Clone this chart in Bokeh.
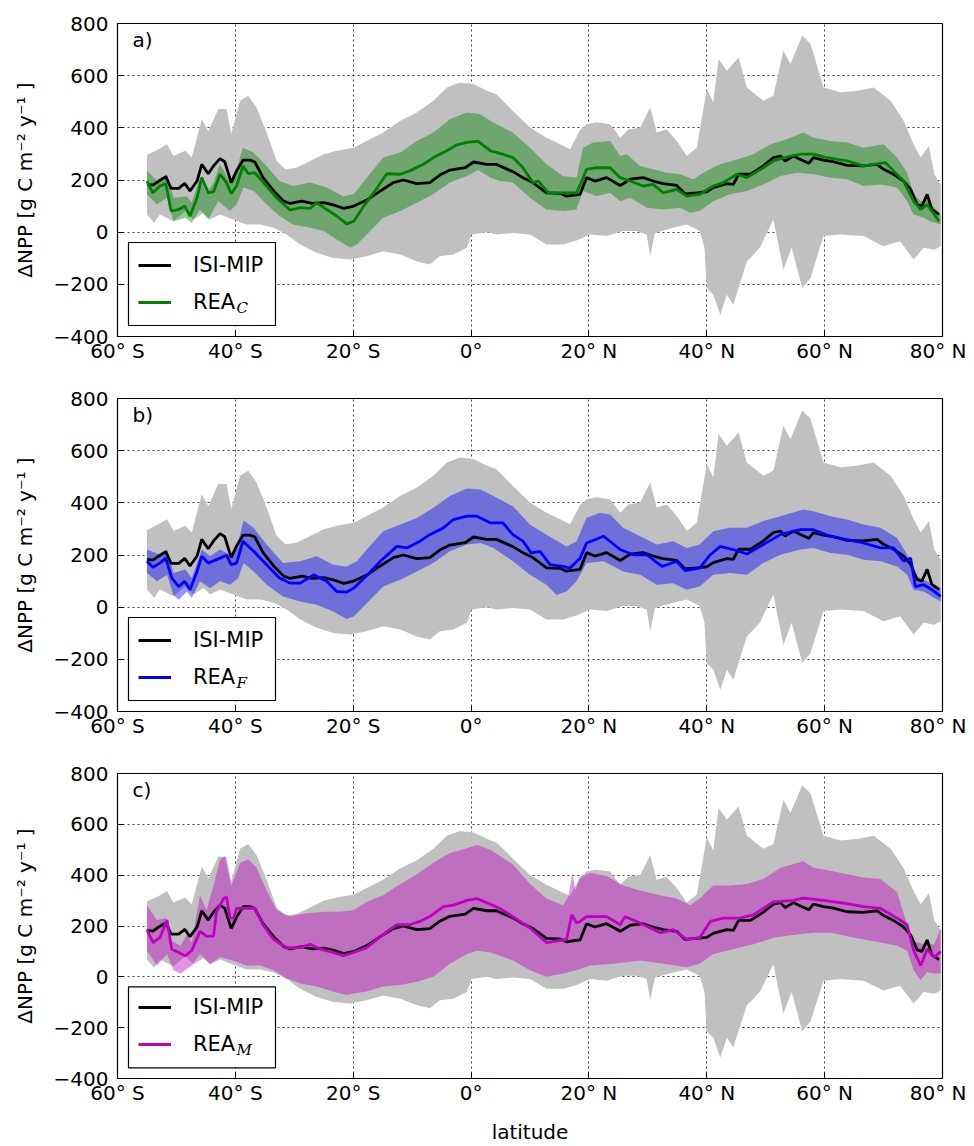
from bokeh.plotting import figure
from bokeh.layouts import column
from bokeh.models import FixedTicker, Legend, LegendItem, Label, Range1d, BoxAnnotation
from bokeh.embed import file_html
from bokeh.resources import INLINE

# ---------------- data ----------------
X_TICKS = [-60, -40, -20, 0, 20, 40, 60, 80]
X_TICK_LABELS = ["60° S", "40° S", "20° S", "0°", "20° N", "40° N", "60° N", "80° N"]
Y_TICKS = [-400, -200, 0, 200, 400, 600, 800]
Y_TICK_LABELS = ["−400", "−200", "0", "200", "400", "600", "800"]

# ISI-MIP ensemble mean (black line), (latitude, dNPP)
ISI_MEAN = [(-55, 183), (-54, 180), (-53, 196), (-51.8, 213), (-50.9, 168), (-49.6, 168), (-48.6, 187),
            (-47.7, 158), (-46.5, 196), (-45.7, 260), (-44.6, 224), (-43.7, 254), (-42.6, 282), (-41.8, 270),
            (-40.7, 190), (-39.8, 235), (-38.7, 276), (-37.5, 276), (-36.7, 269), (-35.3, 209), (-33.5, 158),
            (-31.8, 119), (-30.7, 110), (-28.7, 119), (-27, 110), (-25, 113), (-23.3, 104), (-21.6, 91),
            (-19.9, 100), (-17.7, 123), (-15.4, 158), (-13.2, 190), (-11.5, 200), (-9.2, 186), (-7, 190),
            (-5.3, 219), (-3.6, 238), (-1, 247), (0.4, 269), (2.7, 260), (4.3, 260), (7.1, 232), (8.8, 209),
            (10.5, 190), (12.8, 151), (15.1, 149), (16.2, 138), (18.5, 145), (19.6, 209), (21, 196), (23, 209),
            (25.3, 179), (27, 203), (29.2, 209), (30.9, 196), (32.6, 186), (34.9, 179), (36.3, 147), (38.3, 151),
            (40, 155), (41.1, 171), (43.4, 186), (44.5, 183), (45.4, 222), (47.4, 222), (49.6, 254), (51.3, 286),
            (52.5, 292), (53.3, 273), (54.7, 292), (55.9, 279), (57.3, 264), (58.1, 286), (59.8, 276),
            (61.5, 270), (63.8, 256), (66.6, 254), (68.9, 260), (70, 241), (71.7, 222), (73.4, 196), (74.6, 164),
            (75.7, 106), (76.5, 100), (77.4, 145), (78.2, 87), (79.4, 68)]

# ISI-MIP ensemble spread (grey band)
ISI_UPPER = [(-55, 296), (-53, 318), (-51.6, 337), (-50.5, 292), (-48.5, 312), (-47.4, 286), (-45.7, 433),
             (-44.6, 388), (-42.9, 472), (-41.5, 472), (-40.7, 376), (-39.2, 504), (-37.8, 523), (-36.4, 478),
             (-34.7, 382), (-33, 273), (-31.5, 241), (-29.6, 247), (-27.3, 273), (-25, 299), (-22.8, 312),
             (-19.9, 324), (-17.7, 350), (-14.9, 382), (-12, 427), (-9.2, 459), (-6.4, 504), (-4.1, 555),
             (-1.9, 574), (0.4, 568), (2.7, 542), (4.3, 529), (7.1, 465), (10, 401), (12.8, 362), (15.1, 337),
             (16.8, 318), (18.5, 392), (19.6, 414), (21.3, 421), (23.6, 414), (25.3, 362), (26.7, 394),
             (28.7, 401), (30.4, 478), (31.5, 382), (33.2, 394), (34.9, 350), (36.6, 292), (38.3, 324),
             (40, 549), (41.1, 497), (42, 664), (43.4, 619), (45.4, 670), (46.8, 555), (49.6, 504), (51.3, 523),
             (53, 696), (54.2, 645), (56.2, 754), (57.6, 722), (59.8, 555), (62.7, 536), (65.5, 542),
             (68.3, 555), (71.2, 504), (73.4, 427), (75.1, 337), (76.3, 286), (77.7, 330), (78.6, 222),
             (79.7, 183)]
ISI_LOWER = [(-55, 68), (-53.8, 36), (-52.8, 68), (-50.5, 42), (-48.5, 81), (-47.1, 49), (-45.4, 74),
             (-44.3, 49), (-42.6, 68), (-40.4, 49), (-38.1, 29), (-35.8, 29), (-33.5, 17), (-31.3, -9),
             (-29, -47), (-26.2, -79), (-23.4, -99), (-20.5, -105), (-17.7, -92), (-14.9, -73), (-12, -86),
             (-9.2, -112), (-7, -124), (-5.3, -92), (-3, -86), (-0.7, -60), (0.1, -9), (2.7, 0), (4.3, -9),
             (7.1, -3), (10, -9), (12.8, -47), (15.6, -47), (17.9, -32), (20.2, -9), (23, -15), (25.8, 4),
             (28.1, 4), (29.8, -9), (30.4, -92), (31.2, -3), (34.3, 17), (36.6, 29), (38.8, 4), (39.6, -60),
             (40, -214), (41.1, -240), (42.3, -317), (43.4, -240), (44.5, -278), (46.8, -112), (49, -60),
             (51.3, 49), (53, -144), (54.4, -60), (56.2, -214), (57.6, -176), (59.8, -15), (62.7, -9),
             (66.6, -15), (70, -54), (72.8, -35), (75.1, -105), (76.8, -60), (78.6, -67), (79.7, -54)]

# REA_C (green)
REA_C_MEAN = [(-55, 196), (-54, 151), (-52.8, 177), (-51.8, 186), (-50.9, 81), (-49.6, 87), (-48.6, 100),
              (-47.7, 62), (-46.5, 132), (-45.7, 209), (-44.6, 151), (-43.7, 155), (-42.6, 222), (-41.5, 190),
              (-40.7, 147), (-39.8, 177), (-38.7, 254), (-37.8, 224), (-36.7, 228), (-34.7, 177), (-33, 132),
              (-30.7, 85), (-29, 94), (-27.3, 91), (-26.2, 113), (-24.5, 87), (-22.8, 62), (-21.1, 32),
              (-19.9, 42), (-18.2, 100), (-15.9, 171), (-14.3, 224), (-12, 222), (-10.4, 235), (-8.1, 260),
              (-6.4, 286), (-4.1, 312), (-2.4, 335), (-0.7, 344), (1.2, 348), (3.3, 312), (4.9, 302),
              (7.1, 286), (8.8, 247), (10.5, 190), (11.4, 196), (13.1, 151), (15.6, 151), (17.9, 151),
              (18.8, 196), (19.6, 241), (21.3, 247), (23.6, 247), (25.3, 209), (27, 196), (29.2, 177),
              (30.9, 183), (32.6, 151), (34.9, 164), (36.6, 138), (38.8, 145), (41.1, 177), (42.8, 190),
              (45.1, 222), (46.8, 209), (49.6, 247), (51.3, 273), (54.2, 292), (55.9, 299), (58.1, 299),
              (60.4, 286), (63.8, 273), (66.6, 254), (68.3, 260), (70.3, 267), (71.7, 235), (73.4, 196),
              (75.1, 119), (76.3, 87), (77.4, 106), (78.6, 68), (79.4, 42)]
REA_C_UPPER = [(-55, 235), (-53.3, 196), (-51.6, 222), (-50.5, 132), (-48.2, 138), (-47.4, 113), (-46, 209),
               (-44.9, 151), (-43.7, 190), (-42.6, 260), (-40.9, 190), (-39.8, 241), (-38.7, 324), (-36.9, 305),
               (-34.7, 254), (-32.5, 196), (-30.2, 177), (-27.3, 190), (-24.5, 171), (-21.7, 138), (-19.9, 145),
               (-17.7, 209), (-14.9, 286), (-12, 305), (-9.2, 350), (-6.4, 382), (-3.6, 433), (-0.7, 459),
               (1.5, 453), (3.7, 421), (7.1, 382), (10, 324), (12.8, 260), (15.6, 215), (17.9, 209), (19, 324),
               (20.7, 344), (23.6, 350), (25.3, 292), (26.4, 299), (28.7, 254), (30.9, 241), (33.2, 228),
               (35.5, 222), (37.7, 203), (40, 235), (42.3, 260), (45.1, 279), (47.9, 299), (50.8, 337),
               (53.6, 356), (56.4, 382), (58.1, 362), (61, 350), (63.8, 344), (66.6, 324), (70, 337),
               (72.3, 286), (74, 228), (75.1, 145), (76.3, 119), (77.4, 125), (78.6, 94), (79.7, 68)]
REA_C_LOWER = [(-55, 145), (-53.3, 106), (-51.6, 132), (-50.5, 42), (-48.5, 55), (-47.4, 36), (-46, 87),
               (-44.6, 49), (-42.9, 119), (-40.9, 81), (-39.8, 106), (-38.6, 171), (-36.9, 158), (-34.7, 106),
               (-32.5, 62), (-30.2, 29), (-27.3, 17), (-25, 4), (-22.8, -28), (-20.5, -60), (-19.4, -47),
               (-17.7, -9), (-14.9, 55), (-12, 81), (-9.2, 113), (-6.4, 145), (-3.6, 190), (-0.7, 215),
               (1.2, 238), (3.3, 209), (4.9, 196), (7.1, 190), (10, 132), (12.8, 87), (15.6, 81), (17.9, 87),
               (19, 158), (21.3, 138), (23.6, 151), (25.3, 119), (27, 132), (29.8, 94), (32.6, 87), (35.5, 94),
               (37.2, 74), (38.8, 81), (41.1, 119), (43.9, 145), (46.8, 158), (49.6, 183), (52.5, 215),
               (55.3, 228), (58.1, 222), (61, 209), (63.8, 203), (66.6, 177), (69.5, 183), (72.3, 171),
               (74, 119), (75.1, 68), (76.8, 55), (77.9, 42), (79.7, 29)]

# REA_F (blue)
REA_F_MEAN = [(-55, 176), (-54, 153), (-52.8, 169), (-51.8, 188), (-50.8, 112), (-49.6, 79), (-48.6, 99),
              (-47.7, 67), (-46.5, 137), (-45.7, 195), (-44.6, 169), (-42.6, 188), (-41.5, 199), (-40.7, 163),
              (-39.8, 169), (-38.7, 253), (-36.9, 214), (-34.7, 163), (-32.5, 112), (-30.7, 92), (-29, 92),
              (-26.7, 124), (-24.5, 99), (-22.8, 60), (-21.1, 58), (-19.9, 73), (-17.7, 121), (-15.4, 176),
              (-12.6, 233), (-10.9, 227), (-8.7, 253), (-7, 278), (-4.7, 304), (-3, 336), (-0.7, 349), (1, 349),
              (3.3, 323), (5.4, 323), (7.1, 278), (8.8, 253), (10.2, 208), (11.7, 214), (13.4, 163), (15.6, 156),
              (16.8, 150), (18.5, 188), (19.6, 246), (22.5, 272), (25.3, 221), (27.5, 201), (29.8, 201),
              (32.4, 156), (34.9, 176), (36.3, 140), (38.8, 150), (40.6, 201), (42.3, 233), (44.5, 221),
              (46.8, 204), (49.6, 240), (52.5, 278), (55.9, 297), (58.1, 297), (61, 272), (63.8, 259),
              (66.6, 246), (69.5, 227), (71.7, 227), (73.4, 176), (74.6, 188), (75.4, 79), (76.8, 86),
              (78.2, 67), (79.7, 41)]
REA_F_UPPER = [(-55, 221), (-52.8, 201), (-51.6, 221), (-50.5, 131), (-48.5, 144), (-47.4, 112), (-45.7, 221),
               (-44.3, 195), (-42.6, 221), (-40.9, 201), (-39.8, 227), (-38.6, 332), (-36.9, 304), (-34.7, 240),
               (-31.9, 169), (-29, 176), (-26.2, 195), (-23.4, 163), (-21.1, 156), (-19.4, 176), (-17.7, 221),
               (-14.9, 291), (-12, 317), (-9.2, 342), (-6.4, 381), (-3.6, 426), (-0.7, 455), (1.6, 451),
               (3.8, 426), (7.1, 387), (10, 317), (12.8, 278), (16.2, 233), (17.9, 253), (19.6, 343), (21.9, 362),
               (23.6, 355), (25.8, 304), (28.7, 272), (31.5, 240), (34.3, 253), (36.6, 227), (38.8, 240),
               (41.1, 291), (43.9, 304), (46.8, 304), (49.6, 330), (52.5, 349), (56.4, 374), (58.1, 368),
               (61, 349), (63.8, 336), (66.6, 317), (69.5, 304), (72.3, 265), (74, 201), (75.1, 124),
               (76.8, 105), (78.6, 86), (79.7, 73)]
REA_F_LOWER = [(-55, 131), (-53.3, 99), (-51.6, 124), (-50.5, 47), (-49.6, 28), (-48.2, 60), (-47.4, 35),
               (-46, 99), (-44.3, 73), (-42.6, 99), (-40.9, 86), (-39.5, 112), (-38.6, 169), (-36.9, 137),
               (-34.7, 86), (-31.9, 41), (-29, 22), (-26.2, 9), (-23.4, -17), (-21.1, -45), (-19.9, -36),
               (-17.7, 15), (-14.9, 79), (-12, 105), (-9.2, 137), (-6.4, 169), (-3.6, 214), (-0.7, 240),
               (1.6, 246), (3.8, 227), (7.1, 176), (10, 124), (12.8, 86), (14.5, 47), (16.2, 60), (17.9, 99),
               (19.6, 169), (22.5, 176), (25.8, 137), (28.7, 124), (31.5, 86), (34.3, 92), (36.6, 67),
               (38.8, 79), (41.1, 124), (43.9, 131), (46.8, 124), (49.6, 169), (52.5, 201), (55.9, 221),
               (58.1, 227), (61, 208), (63.8, 201), (66.6, 182), (69.5, 176), (72.3, 156), (74, 124), (75.1, 67),
               (76.8, 60), (78.6, 35), (79.7, 22)]

# REA_M (magenta)
REA_M_MEAN = [(-55, 186), (-54, 135), (-52.8, 154), (-51.6, 224), (-50.8, 109), (-49.6, 96), (-48.5, 83),
              (-47.4, 103), (-46, 179), (-44.9, 160), (-43.7, 160), (-43.2, 256), (-42, 308), (-41.5, 314),
              (-40.9, 231), (-40.3, 231), (-39.8, 269), (-38.6, 269), (-36.7, 269), (-35.3, 205), (-33.5, 147),
              (-31.3, 115), (-29, 115), (-27.3, 128), (-25.6, 109), (-23.4, 96), (-21.7, 83), (-19.9, 96),
              (-17.7, 115), (-14.9, 167), (-12.6, 205), (-10.4, 205), (-8.7, 218), (-7, 237), (-4.7, 276),
              (-3, 282), (-0.7, 301), (1, 308), (3.3, 285), (4.9, 269), (7.1, 237), (10, 192), (12.8, 135),
              (14.5, 141), (16.2, 147), (17.1, 244), (17.9, 212), (18.5, 218), (19.6, 237), (23, 237),
              (25.3, 205), (26.1, 237), (28.1, 218), (29.8, 199), (32.1, 173), (34.3, 186), (36.6, 147),
              (38.8, 154), (40.6, 218), (42.8, 231), (45.6, 231), (47.9, 244), (51.3, 295), (54.7, 301),
              (56.4, 310), (59.8, 301), (63.8, 288), (66.6, 276), (69.5, 269), (72.3, 231), (74, 205),
              (75.1, 103), (76.3, 45), (77.4, 109), (78.6, 77), (79.7, 100)]
REA_M_UPPER = [(-55, 282), (-53.3, 224), (-51.8, 231), (-50.8, 141), (-49.3, 122), (-48.2, 167), (-47.4, 135),
               (-46, 321), (-44.9, 263), (-43.7, 359), (-42.6, 462), (-41.8, 474), (-40.7, 359), (-39.2, 449),
               (-37.8, 462), (-36.4, 429), (-34.7, 340), (-33, 263), (-30.7, 237), (-27.9, 250), (-25, 256),
               (-22.2, 256), (-19.9, 263), (-17.7, 295), (-14.9, 321), (-12, 365), (-9.2, 404), (-6.4, 449),
               (-3.6, 487), (-0.7, 506), (1, 519), (3.3, 500), (4.9, 475), (7.1, 442), (10, 365), (12.8, 308),
               (15.6, 282), (16.5, 314), (17.2, 410), (17.7, 340), (18.5, 390), (20.2, 410), (23, 397),
               (25.8, 359), (28.7, 340), (32.1, 321), (34.9, 308), (37.2, 282), (38.8, 308), (41.1, 359),
               (43.9, 359), (46.8, 365), (49.6, 385), (52.5, 429), (56.4, 455), (58.1, 429), (61, 417),
               (63.8, 404), (66.6, 391), (69.5, 385), (72.3, 333), (74, 205), (75.1, 141), (76.8, 128),
               (78.6, 128), (79.7, 192)]
REA_M_LOWER = [(-55, 103), (-53.3, 45), (-51.6, 90), (-50.5, 26), (-49.3, 13), (-47.4, 45), (-46, 90),
               (-44.3, 51), (-42.6, 77), (-40.4, 64), (-38.1, 45), (-35.8, 45), (-33.5, 26), (-31.3, -6),
               (-29, -26), (-26.2, -38), (-23.4, -58), (-21.1, -71), (-19.4, -64), (-17.7, -58), (-14.9, -38),
               (-12, -32), (-9.2, -19), (-6.4, 0), (-3.6, 51), (-0.7, 90), (1, 103), (3.3, 96), (4.9, 83),
               (7.1, 64), (10, 26), (12.8, 0), (15.6, 13), (17.9, 26), (20.2, 45), (24.2, 51), (28.7, 64),
               (32.6, 51), (36.6, 38), (38.8, 51), (41.1, 90), (44.5, 109), (47.9, 128), (51.3, 154),
               (55.3, 167), (58.1, 173), (61, 173), (63.8, 160), (66.6, 147), (69.5, 135), (72.3, 122),
               (74, 103), (75.1, 26), (76.3, -13), (77.4, 19), (78.6, 13), (79.7, 13)]

PANEL_LABELS = ["a)", "b)", "c)"]
REA_SUBSCRIPTS = ["C", "F", "M"]
REA_COLORS = ["#008000", "#0000ff", "#bf00bf"]
Y_LABEL = "ΔNPP [g C m⁻² y⁻¹ ]"
X_LABEL = "latitude"

FONT = "DejaVu Sans"
LEGEND_FONT_PX = 21
X_MIN, X_MAX, Y_MIN, Y_MAX = -60, 80, -400, 800
FRAME_W, FRAME_H = 825, 313

# legend layout in pixels (relative to the frame's lower-left corner)
LEG_MARGIN, LEG_PAD, LEG_SPACING, LEG_ITEM_H = 11, 10, 11, 26
LEG_GLYPH_W, LEG_STANDOFF = 33, 22
LEG_W = LEG_PAD + LEG_GLYPH_W + LEG_STANDOFF + 72 + LEG_PAD
LEG_H = 2 * LEG_PAD + 2 * LEG_ITEM_H + LEG_SPACING


def split(pairs):
    return [p[0] for p in pairs], [p[1] for p in pairs]


def band(upper, lower):
    ux, uy = split(upper)
    lx, ly = split(lower)
    return ux + lx[::-1], uy + ly[::-1]


def px_to_x(px):
    return X_MIN + px * (X_MAX - X_MIN) / FRAME_W


def px_to_y(px):
    return Y_MIN + px * (Y_MAX - Y_MIN) / FRAME_H


def style_axis(ax, ticks, labels):
    ax.ticker = FixedTicker(ticks=ticks)
    ax.major_label_overrides = {t: l for t, l in zip(ticks, labels)}
    ax.axis_line_color = None
    ax.major_tick_in = 6
    ax.major_tick_out = 0
    ax.major_tick_line_color = "black"
    ax.minor_tick_line_color = None
    ax.major_label_text_font = FONT
    ax.major_label_text_color = "black"
    ax.major_label_text_font_size = "20px"


def make_panel(idx, mean, upper, lower, show_xlabel, height, border_top, border_bottom):
    color = REA_COLORS[idx]
    p = figure(width=966, height=height, output_backend="svg", toolbar_location=None,
               x_range=Range1d(X_MIN, X_MAX), y_range=Range1d(Y_MIN, Y_MAX),
               min_border_left=117, min_border_right=24, min_border_top=border_top,
               min_border_bottom=border_bottom)
    p.outline_line_color = "black"
    p.outline_line_width = 1.2
    p.outline_line_alpha = 1.0
    p.background_fill_color = "white"
    p.border_fill_color = "white"

    style_axis(p.xaxis[0], X_TICKS, X_TICK_LABELS)
    p.xaxis[0].major_label_standoff = 2
    style_axis(p.yaxis[0], Y_TICKS, Y_TICK_LABELS)
    p.yaxis[0].major_label_standoff = 9
    p.yaxis[0].axis_label = Y_LABEL
    p.yaxis[0].axis_label_text_font = FONT
    p.yaxis[0].axis_label_text_font_size = "20px"
    p.yaxis[0].axis_label_text_font_style = "normal"
    p.yaxis[0].axis_label_text_color = "black"
    p.yaxis[0].axis_label_standoff = 14
    if show_xlabel:
        p.xaxis[0].axis_label = X_LABEL
        p.xaxis[0].axis_label_text_font = FONT
        p.xaxis[0].axis_label_text_font_size = "20px"
        p.xaxis[0].axis_label_text_font_style = "normal"
        p.xaxis[0].axis_label_text_color = "black"
        p.xaxis[0].axis_label_standoff = 12

    for g, t in ((p.xgrid[0], X_TICKS), (p.ygrid[0], Y_TICKS)):
        g.ticker = FixedTicker(ticks=t)
        g.grid_line_color = "black"
        g.grid_line_alpha = 0.75
        g.grid_line_dash = "2 3"
        g.grid_line_width = 1

    gx, gy = band(ISI_UPPER, ISI_LOWER)
    p.patch(gx, gy, fill_color="#c0c0c0", fill_alpha=1.0, line_color=None)
    bx, by = band(upper, lower)
    p.patch(bx, by, fill_color=color, fill_alpha=0.42, line_color=None)

    mx, my = split(ISI_MEAN)
    r_isi = p.line(mx, my, line_color="black", line_width=2.8)
    rx, ry = split(mean)
    r_rea = p.line(rx, ry, line_color=color, line_width=2.8)

    # white legend box drawn as an annotation, so that the subscript label can sit on top of it
    p.add_layout(BoxAnnotation(left=px_to_x(LEG_MARGIN), right=px_to_x(LEG_MARGIN + LEG_W),
                               bottom=px_to_y(LEG_MARGIN), top=px_to_y(LEG_MARGIN + LEG_H),
                               fill_color="white", fill_alpha=1.0, line_color="black",
                               line_width=1.2, line_alpha=1.0, editable=False, propagate_hover=False))

    # a borderless legend gets no padding, so its margin carries the padding
    legend = Legend(items=[LegendItem(label="ISI-MIP", renderers=[r_isi]),
                           LegendItem(label="REA", renderers=[r_rea])],
                    location="bottom_left", margin=LEG_MARGIN + LEG_PAD, padding=0,
                    spacing=LEG_SPACING,
                    glyph_width=LEG_GLYPH_W, glyph_height=LEG_ITEM_H, label_height=LEG_ITEM_H,
                    label_standoff=LEG_STANDOFF,
                    label_text_font=FONT, label_text_font_size=f"{LEGEND_FONT_PX}px",
                    label_text_color="black",
                    border_line_color=None, background_fill_alpha=0.0)
    p.add_layout(legend)

    # italic subscript of the "REA" legend entry, anchored at the frame's lower-left corner
    sub_x = LEG_MARGIN + LEG_PAD + LEG_GLYPH_W + LEG_STANDOFF + round(2.011 * LEGEND_FONT_PX) + 1
    p.add_layout(Label(x=X_MIN, y=Y_MIN, x_offset=sub_x, y_offset=29, text=REA_SUBSCRIPTS[idx],
                       text_font="DejaVu Serif", text_font_style="italic", text_font_size="15px",
                       text_baseline="middle", text_color="black"))
    p.add_layout(Label(x=X_MIN, y=Y_MAX, x_offset=15, y_offset=-4, text=PANEL_LABELS[idx],
                       text_font=FONT, text_font_size="20px", text_baseline="top",
                       text_color="black"))
    return p


pa = make_panel(0, REA_C_MEAN, REA_C_UPPER, REA_C_LOWER, False, 383, 23, 47)
pb = make_panel(1, REA_F_MEAN, REA_F_UPPER, REA_F_LOWER, False, 375, 15, 47)
pc = make_panel(2, REA_M_MEAN, REA_M_UPPER, REA_M_LOWER, True, 388, 15, 60)

layout = column(pa, pb, pc, spacing=0)
open("out.html", "w").write(file_html(layout, INLINE))
